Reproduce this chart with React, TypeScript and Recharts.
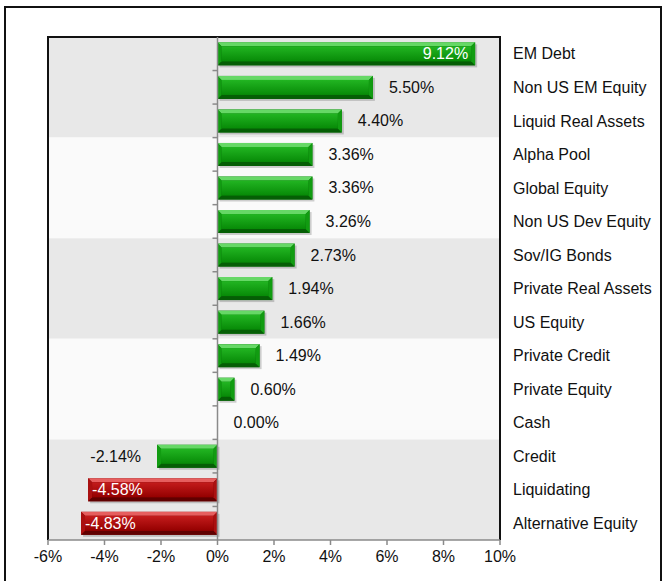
import React from "react";
import {
  BarChart,
  Bar,
  XAxis,
  YAxis,
  ReferenceArea,
  ReferenceLine,
  LabelList,
} from "recharts";

const categories = [
  "EM Debt",
  "Non US EM Equity",
  "Liquid Real Assets",
  "Alpha Pool",
  "Global Equity",
  "Non US Dev Equity",
  "Sov/IG Bonds",
  "Private Real Assets",
  "US Equity",
  "Private Credit",
  "Private Equity",
  "Cash",
  "Credit",
  "Liquidating",
  "Alternative Equity",
];
const returns = [9.12, 5.5, 4.4, 3.36, 3.36, 3.26, 2.73, 1.94, 1.66, 1.49, 0.6, 0, -2.14, -4.58, -4.83];
const xTicks = [-6, -4, -2, 0, 2, 4, 6, 8, 10];
const redItems = ["Liquidating", "Alternative Equity"];

const data = categories.map((name, i) => ({ name, value: returns[i] }));

const W = 666;
const H = 581;
const M_LEFT = 48;
const Y_AXIS_W = 166;
const PLOT_LEFT = M_LEFT;
const PLOT_RIGHT = W - Y_AXIS_W;
const FONT = "'Liberation Sans', Arial, sans-serif";
const FS = 16;

// rough width of an Arial label at FS px
function textWidth(s: string) {
  let w = 0;
  for (const c of s) {
    if (c === "%") w += 0.889;
    else if (c === ".") w += 0.278;
    else if (c === "-") w += 0.333;
    else w += 0.556;
  }
  return w * FS;
}

const palettes = {
  green: { light: "#66d866", top: "#22b522", bottom: "#078a07", dark: "#055e05", side: "#119c11", edge: "#066f06" },
  red: { light: "#e65e5e", top: "#c41c1c", bottom: "#940000", dark: "#600000", side: "#ab1010", edge: "#760000" },
};

function BevelBar(props: any) {
  let { x, y, width, height, payload } = props;
  if (width < 0) {
    x += width;
    width = -width;
  }
  if (!width || width < 0.5) return null;
  const red = redItems.includes(payload.name);
  const p = red ? palettes.red : palettes.green;
  const grad = red ? "url(#faceRed)" : "url(#faceGreen)";
  const b = Math.min(4, width / 2, height / 2);
  const r = x + width;
  const bt = y + height;
  return (
    <g>
      <rect x={x + 2} y={y + 2} width={width} height={height} fill="#000" opacity={0.18} />
      <rect x={x} y={y} width={width} height={height} fill={p.edge} />
      <polygon points={`${x},${y} ${r},${y} ${r - b},${y + b} ${x + b},${y + b}`} fill={p.light} />
      <polygon points={`${x},${bt} ${r},${bt} ${r - b},${bt - b} ${x + b},${bt - b}`} fill={p.dark} />
      <polygon points={`${x},${y} ${x + b},${y + b} ${x + b},${bt - b} ${x},${bt}`} fill={p.side} />
      <polygon points={`${r},${y} ${r - b},${y + b} ${r - b},${bt - b} ${r},${bt}`} fill={p.side} />
      <rect x={x + b} y={y + b} width={Math.max(0, width - 2 * b)} height={Math.max(0, height - 2 * b)} fill={grad} />
    </g>
  );
}

function ValueLabel(props: any) {
  let { x, y, width, height, value } = props;
  if (width < 0) {
    x += width;
    width = -width;
  }
  const txt = `${Number(value).toFixed(2)}%`;
  const tw = textWidth(txt);
  const cy = y + height / 2;
  let tx: number;
  let anchor: "start" | "end";
  let fill = "#111";
  if (value >= 0) {
    const end = x + width;
    if (end + 17 + tw > PLOT_RIGHT) {
      tx = end - 7;
      anchor = "end";
      fill = "#fff";
    } else {
      tx = end + 16;
      anchor = "start";
    }
  } else {
    if (x - 17 - tw < PLOT_LEFT) {
      tx = x + 4;
      anchor = "start";
      fill = "#fff";
    } else {
      tx = x - 16;
      anchor = "end";
    }
  }
  return (
    <text x={tx} y={cy} textAnchor={anchor} dominantBaseline="central" fontSize={FS} fontFamily={FONT} fill={fill}>
      {txt}
    </text>
  );
}

// zero line with small ticks at the category boundaries
function ZeroLine(props: any) {
  const { x1, y1, y2 } = props;
  const n = categories.length;
  const step = (y2 - y1) / n;
  const ticks = [];
  for (let k = 1; k < n; k++) {
    const ty = y1 + k * step;
    ticks.push(<line key={k} x1={x1 - 5} x2={x1} y1={ty} y2={ty} stroke="#8a8a8a" strokeWidth={1.5} />);
  }
  return (
    <g>
      <line x1={x1} x2={x1} y1={y1} y2={y2} stroke="#8a8a8a" strokeWidth={1.5} />
      {ticks}
    </g>
  );
}

// plot frame: black top/left/right, bottom left to the x axis line
function Frame(props: any) {
  const { x, y, width, height } = props;
  return (
    <path
      d={`M${x},${y + height} L${x},${y} L${x + width},${y} L${x + width},${y + height}`}
      fill="none"
      stroke="#111"
      strokeWidth={2}
    />
  );
}

const bands = [0, 3, 6, 9, 12].map((start, i) => ({
  y1: categories[start],
  y2: categories[start + 2],
  fill: i % 2 === 0 ? "#e8e8e8" : "#fafafa",
}));

export default function App() {
  return (
    <div style={{ position: "fixed", left: 0, top: 0, width: W, height: H, overflow: "hidden", background: "#fff" }}>
      <div
        style={{
          position: "absolute",
          left: 4,
          top: 6,
          width: 658,
          height: 700,
          border: "2px solid #111",
          boxSizing: "border-box",
        }}
      />
      <div style={{ position: "absolute", left: 0, top: 0 }}>
        <BarChart
          width={W}
          height={H}
          data={data}
          layout="vertical"
          margin={{ top: 37, right: 0, bottom: 0, left: M_LEFT }}
          barCategoryGap="16%"
        >
          <defs>
            <linearGradient id="faceGreen" x1="0" y1="0" x2="0" y2="1">
              <stop offset="0%" stopColor={palettes.green.top} />
              <stop offset="100%" stopColor={palettes.green.bottom} />
            </linearGradient>
            <linearGradient id="faceRed" x1="0" y1="0" x2="0" y2="1">
              <stop offset="0%" stopColor={palettes.red.top} />
              <stop offset="100%" stopColor={palettes.red.bottom} />
            </linearGradient>
          </defs>
          {bands.map((b) => (
            <ReferenceArea key={b.y1} y1={b.y1} y2={b.y2} fill={b.fill} fillOpacity={1} stroke="none" />
          ))}
          <XAxis
            type="number"
            domain={[-6, 10]}
            ticks={xTicks}
            tickFormatter={(v) => `${v}%`}
            height={41}
            tickSize={5}
            tickMargin={6}
            axisLine={{ stroke: "#8a8a8a", strokeWidth: 1.5 }}
            tickLine={{ stroke: "#8a8a8a", strokeWidth: 1.5 }}
            tick={{ fontSize: FS, fontFamily: FONT, fill: "#111" }}
            allowDataOverflow
          />
          <YAxis
            type="category"
            dataKey="name"
            orientation="right"
            width={Y_AXIS_W}
            axisLine={false}
            tickLine={false}
            tickMargin={7}
            interval={0}
            tick={{ fontSize: FS, fontFamily: FONT, fill: "#111", textAnchor: "start" }}
          />
          <ReferenceArea x1={-6} x2={10} shape={Frame} />
          <ReferenceLine x={0} shape={ZeroLine} />
          <Bar dataKey="value" shape={BevelBar} isAnimationActive={false}>
            <LabelList dataKey="value" content={ValueLabel} />
          </Bar>
        </BarChart>
      </div>
    </div>
  );
}
